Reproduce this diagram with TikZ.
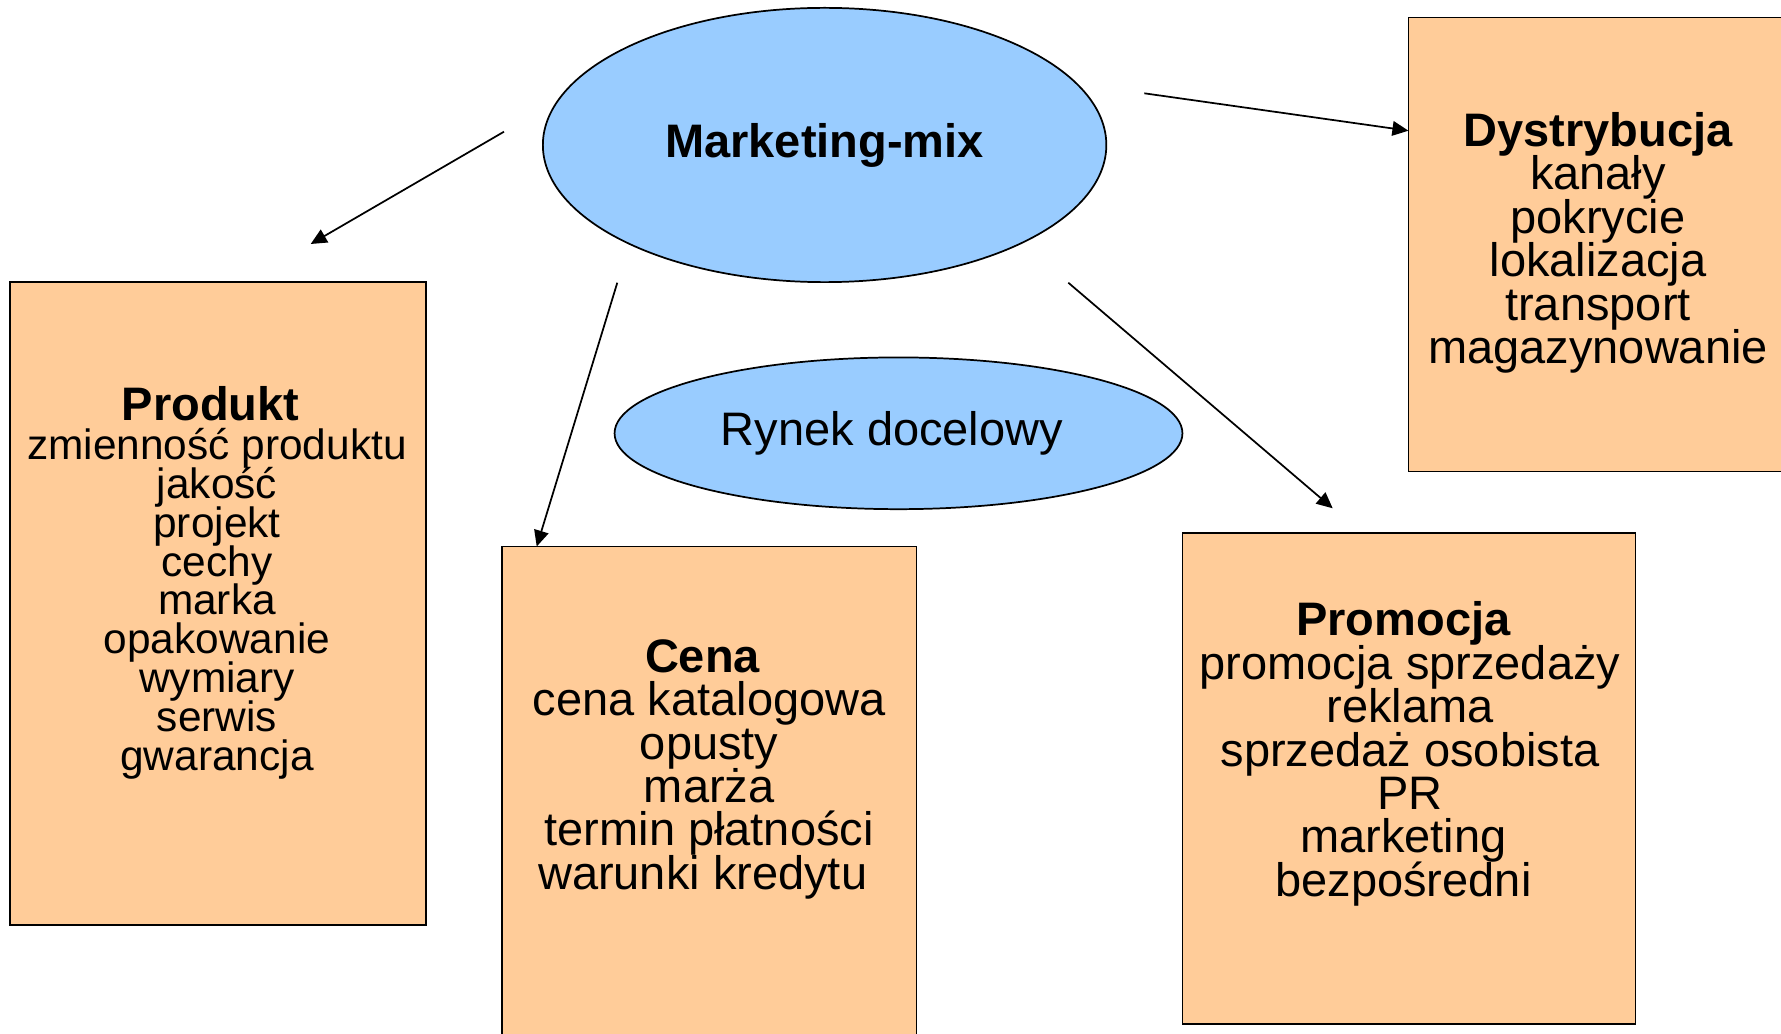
\documentclass[tikz,border=0pt]{standalone}
\usepackage{fontspec}
\setmainfont{Liberation Sans}
\usetikzlibrary{shapes.geometric,arrows.meta,fit}
\definecolor{mixblue}{RGB}{153,204,255}
\definecolor{mixorange}{RGB}{255,204,153}
\setlength{\lineskiplimit}{-100pt}
\newcommand{\tsp}{\kern.278em}% trailing space, as in the source slide

\tikzset{every picture/.style={line width=1.3pt}}
\tikzset{
  mixellipse/.style={ellipse, draw, fill=mixblue, inner sep=0pt,
    font=\fontsize{35.25}{32.55}\selectfont},
  mixbox/.style={rectangle, draw, fill=mixorange, inner sep=0pt},
  boxtext/.style={align=center, inner sep=0pt,
    font=\fontsize{35.25}{32.55}\selectfont},
  smalltext/.style={boxtext, font=\fontsize{31.8}{29.1}\selectfont},
  mixarrow/.style={-{Triangle[length=12pt,width=11pt]}},
}

\begin{document}
\begin{tikzpicture}[x=0.75pt,y=0.75pt,yscale=-1,xscale=1]
\useasboundingbox (0,0) rectangle (1781,1034); %set diagram to 1781 x 1034

%Shape: Ellipse [Marketing-mix]
\node[mixellipse, minimum width=422.6pt, minimum height=205.7pt] (mix) at (824.6,145) {\textbf{Marketing-mix}};
%Shape: Ellipse [Rynek docelowy]
\node[mixellipse, minimum width=425.9pt, minimum height=113.8pt] (rynek) at (898.5,433.3) {Rynek docelowy\tsp};

%Shape: Rectangle [Produkt]
\node[mixbox, fit={(10.2,282.2) (426,925.2)}] (produkt) {};
\node[smalltext] (produkt txt) at (217,582.9) {{\fontsize{35.25}{29.1}\selectfont\textbf{Produkt}\tsp}\\zmienność produktu\\jakość\\projekt\\cechy\\marka\\opakowanie\\wymiary\\serwis\\gwarancja};
%Shape: Rectangle [Cena]
\node[mixbox, fit={(502,546.5) (916.6,1045)}] (cena) {};
\node[boxtext] (cena txt) at (709.2,769.2) {\textbf{Cena}\tsp\\cena katalogowa\\opusty\\marża\\termin płatności\\warunki kredytu\tsp};
%Shape: Rectangle [Promocja]
\node[mixbox, fit={(1182.4,532.8) (1635.6,1024.1)}] (promocja) {};
\node[boxtext] (promocja txt) at (1410,753.9) {\textbf{Promocja}\tsp\\promocja sprzedaży\\reklama\\sprzedaż osobista\\PR\\marketing\tsp\\bezpośredni\tsp};
%Shape: Rectangle [Dystrybucja]
\node[mixbox, fit={(1408.4,17.6) (1788,471.6)}] (dystrybucja) {};
\node[boxtext] (dystrybucja txt) at (1598,242.8) {\textbf{Dystrybucja}\\kanały\\pokrycie\\lokalizacja\\transport\\magazynowanie};

%Straight Lines [to Produkt]
\coordinate (produkt from) at (504,131.7);
\coordinate (produkt to) at (310.7,244);
\draw[mixarrow] (produkt from) -- (produkt to);
%Straight Lines [to Dystrybucja]
\coordinate (dystrybucja from) at (1144.3,93.3);
\coordinate (dystrybucja to) at (1408.4,130.7);
\draw[mixarrow] (dystrybucja from) -- (dystrybucja to);
%Straight Lines [to Cena]
\coordinate (cena from) at (617.3,282.7);
\coordinate (cena to) at (536.7,546.5);
\draw[mixarrow] (cena from) -- (cena to);
%Straight Lines [to Promocja]
\coordinate (promocja from) at (1068.3,282.7);
\coordinate (promocja to) at (1332.7,508.3);
\draw[mixarrow] (promocja from) -- (promocja to);

\end{tikzpicture}
\end{document}
